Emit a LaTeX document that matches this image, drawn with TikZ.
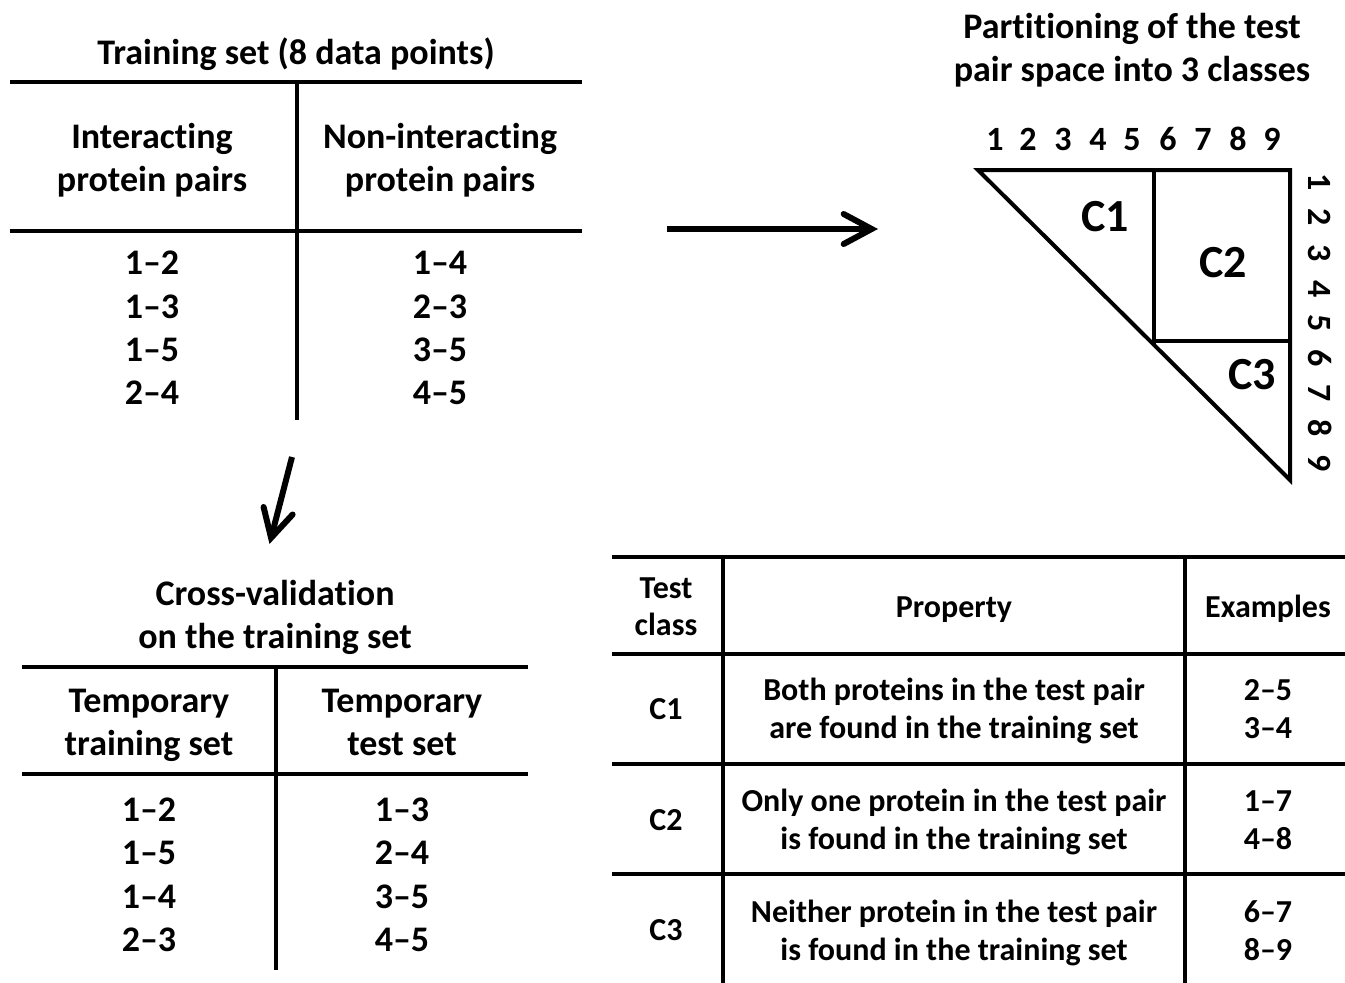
\documentclass[tikz,border=0pt]{standalone}
\usepackage{fontspec}
\setmainfont{Carlito}[Ligatures=NoCommon]
\usetikzlibrary{arrows.meta}
\tikzset{
  txt/.style={inner sep=0pt, text height=22.7pt, text depth=0pt, font=\bfseries\fontsize{36}{42}\selectfont},
  ttxt/.style={inner sep=0pt, text height=20.2pt, text depth=0pt, font=\bfseries\fontsize{32}{38}\selectfont},
  ctxt/.style={inner sep=0pt, text height=29pt, text depth=0pt, font=\bfseries\fontsize{46}{54}\selectfont},
  ntxt/.style={inner sep=0pt, text height=21.4pt, text depth=0pt, font=\bfseries\fontsize{34}{40}\selectfont},
  rule/.style={line width=4.5pt},
  tri/.style={line width=4pt, line join=miter},
  bigarrow/.style={line width=6pt, -{Straight Barb[length=28pt,width=30pt,line cap=round]}},
}
\begin{document}
\begin{tikzpicture}[x=1pt,y=-1pt]
\useasboundingbox (0,0) rectangle (1345,983);
% ---------- training set table ----------
\node[txt] (tt) at (296,53) {Training set (8 data points)};
\coordinate (a1) at (10,82);  \coordinate (a2) at (582,82);
\coordinate (a3) at (10,231); \coordinate (a4) at (582,231);
\coordinate (a5) at (297,82); \coordinate (a6) at (297,420);
\draw[rule] (a1) -- (a2);
\draw[rule] (a3) -- (a4);
\draw[rule] (a5) -- (a6);
\node[txt] (h1a) at (152,137) {Interacting};
\node[txt] (h1b) at (152,180) {protein pairs};
\node[txt] (h2a) at (440,137) {Non-interacting};
\node[txt] (h2b) at (440,180) {protein pairs};
\node[txt] (i1) at (152,263) {1–2};
\node[txt] (i2) at (152,307) {1–3};
\node[txt] (i3) at (152,350) {1–5};
\node[txt] (i4) at (152,393) {2–4};
\node[txt] (n1) at (440,263) {1–4};
\node[txt] (n2) at (440,307) {2–3};
\node[txt] (n3) at (440,350) {3–5};
\node[txt] (n4) at (440,393) {4–5};
% ---------- arrows ----------
\coordinate (r1) at (667,229); \coordinate (r2) at (878,229);
\draw[bigarrow] (r1) -- (r2);
\coordinate (d1) at (292,457); \coordinate (d2) at (269.5,544);
\draw[bigarrow] (d1) -- (d2);
% ---------- cross-validation table ----------
\node[txt] (ct1) at (275,594) {Cross-validation};
\node[txt] (ct2) at (275,637) {on the training set};
\coordinate (b1) at (22,667);  \coordinate (b2) at (528,667);
\coordinate (b3) at (22,774);  \coordinate (b4) at (528,774);
\coordinate (b5) at (276,667); \coordinate (b6) at (276,970);
\draw[rule] (b1) -- (b2);
\draw[rule] (b3) -- (b4);
\draw[rule] (b5) -- (b6);
\node[txt] (g1a) at (149,701) {Temporary};
\node[txt] (g1b) at (149,744) {training set};
\node[txt] (g2a) at (402,701) {Temporary};
\node[txt] (g2b) at (402,744) {test set};
\node[txt] (p1) at (149,810) {1–2};
\node[txt] (p2) at (149,853) {1–5};
\node[txt] (p3) at (149,897) {1–4};
\node[txt] (p4) at (149,940) {2–3};
\node[txt] (q1) at (402,810) {1–3};
\node[txt] (q2) at (402,853) {2–4};
\node[txt] (q3) at (402,897) {3–5};
\node[txt] (q4) at (402,940) {4–5};
% ---------- partition triangle ----------
\node[txt] (pt1) at (1132,27) {Partitioning of the test};
\node[txt] (pt2) at (1132,70) {pair space into 3 classes};
\foreach \n/\x in {1/995,2/1028,3/1063,4/1098,5/1132,6/1168,7/1203,8/1238,9/1272}
  \node[ntxt] (col\n) at (\x,140) {\n};
\foreach \n/\y in {1/182,2/217,3/253,4/289,5/323,6/358,7/393,8/428,9/463}
  \node[ntxt, rotate=-90] (row\n) at (1319,\y) {\n};
\coordinate (t1) at (978,170); \coordinate (t2) at (1290,170); \coordinate (t3) at (1290,480);
\coordinate (v1) at (1154,170); \coordinate (v2) at (1154,345);
\coordinate (w1) at (1154,341); \coordinate (w2) at (1290,341);
\draw[tri] (t1) -- (t2) -- (t3) -- cycle;
\draw[tri] (v1) -- (v2);
\draw[tri] (w1) -- (w2);
\node[ctxt] (c1) at (1105,217) {C1};
\node[ctxt] (c2) at (1223,263) {C2};
\node[ctxt] (c3) at (1252,375) {C3};
% ---------- test class table ----------
\coordinate (e1) at (612,557); \coordinate (e2) at (1345,557);
\coordinate (e3) at (612,654); \coordinate (e4) at (1345,654);
\coordinate (e5) at (612,764); \coordinate (e6) at (1345,764);
\coordinate (e7) at (612,874); \coordinate (e8) at (1345,874);
\coordinate (f1) at (723,557); \coordinate (f2) at (723,983);
\coordinate (f3) at (1185,557); \coordinate (f4) at (1185,983);
\draw[rule] (e1) -- (e2);
\draw[rule] (e3) -- (e4);
\draw[rule] (e5) -- (e6);
\draw[rule] (e7) -- (e8);
\draw[rule] (f1) -- (f2);
\draw[rule] (f3) -- (f4);
\node[ttxt] (k1) at (666,588) {Test};
\node[ttxt] (k2) at (666,625) {class};
\node[ttxt] (k3) at (954,607) {Property};
\node[ttxt] (k4) at (1268,607) {Examples};
\node[ttxt] (l1) at (666,709) {C1};
\node[ttxt] (l2) at (666,820) {C2};
\node[ttxt] (l3) at (666,930) {C3};
\node[ttxt] (m1a) at (954,690) {Both proteins in the test pair};
\node[ttxt] (m1b) at (954,728) {are found in the training set};
\node[ttxt] (m2a) at (954,801) {Only one protein in the test pair};
\node[ttxt] (m2b) at (954,839) {is found in the training set};
\node[ttxt] (m3a) at (954,912) {Neither protein in the test pair};
\node[ttxt] (m3b) at (954,950) {is found in the training set};
\node[ttxt] (x1a) at (1268,690) {2–5};
\node[ttxt] (x1b) at (1268,728) {3–4};
\node[ttxt] (x2a) at (1268,801) {1–7};
\node[ttxt] (x2b) at (1268,839) {4–8};
\node[ttxt] (x3a) at (1268,912) {6–7};
\node[ttxt] (x3b) at (1268,950) {8–9};
\end{tikzpicture}
\end{document}
